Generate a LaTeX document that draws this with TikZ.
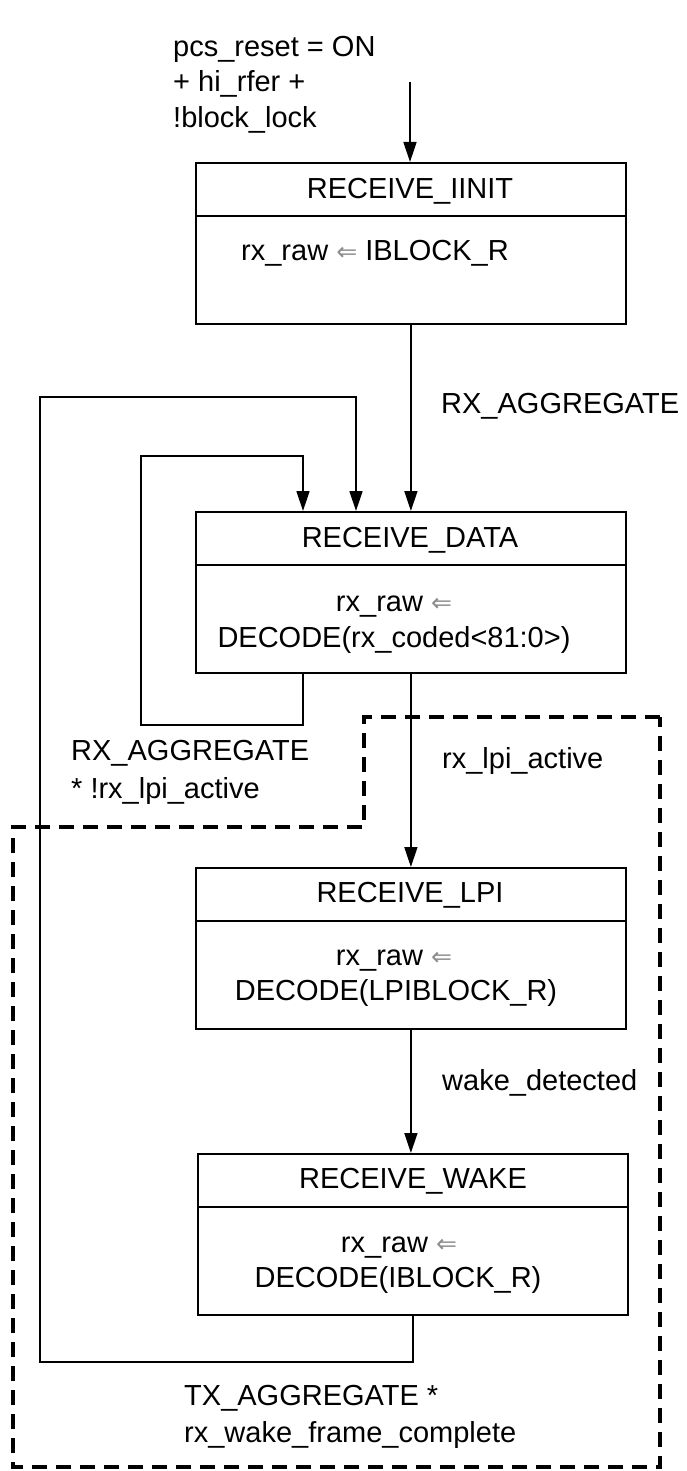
\documentclass[tikz,border=0pt]{standalone}
\usepackage{fontspec}
\setmainfont{Liberation Sans}
\newfontfamily\arrowfont{DejaVu Sans}
\usetikzlibrary{arrows.meta,calc}

% assignment arrow used inside the state boxes
\newcommand\assignarrow{{\arrowfont\fontsize{25}{30}\selectfont\textcolor{black!45}{⇐}}}

\begin{document}
\begin{tikzpicture}[x=1pt,y=-1pt,
  every node/.style={font=\fontsize{29}{35}\selectfont, inner sep=0pt},
  statebox/.style={draw, line width=1.8pt, minimum width=430pt,
                   minimum height=161pt, anchor=north west},
  divider/.style={line width=1.8pt},
  txt/.style={anchor=base},
  cond/.style={anchor=base west},
  link/.style={line width=1.5pt, -{Triangle[width=13pt,length=20pt]}},
  region/.style={line width=3.5pt, dash pattern=on 15pt off 9pt}
]
\useasboundingbox (0,0) rectangle (686,1471);

% low power idle region
\draw[region] (660,717) -- (364,717) -- (364,827) -- (13,827)
  -- (13,1467) -- (660,1467) -- cycle;

% states
\node[statebox] (init) at (195,162) {};
\node[statebox] (data) at (195,511) {};
\node[statebox] (lpi)  at (195,867) {};
\node[statebox] (wake) at (197,1153) {};

\foreach \s in {init,data,lpi,wake}
  \draw[divider] (\s.north west) ++(0,54) -- ++(430,0);

% state names and actions
\node[txt]  (initT) at (410,199)  {RECEIVE\_IINIT};
\node[cond] (initA) at (241,260)  {rx\_raw \assignarrow{} IBLOCK\_R};

\node[txt] (dataT)  at (410,547)  {RECEIVE\_DATA};
\node[txt] (dataA1) at (394,611)  {rx\_raw \assignarrow};
\node[txt] (dataA2) at (394,647)  {DECODE(rx\_coded<81:0>)};

\node[txt] (lpiT)  at (410,902)  {RECEIVE\_LPI};
\node[txt] (lpiA1) at (394,965)  {rx\_raw \assignarrow};
\node[txt] (lpiA2) at (396,1000) {DECODE(LPIBLOCK\_R)};

\node[txt] (wakeT)  at (413,1188) {RECEIVE\_WAKE};
\node[txt] (wakeA1) at (399,1252) {rx\_raw \assignarrow};
\node[txt] (wakeA2) at (398,1287) {DECODE(IBLOCK\_R)};

% transition conditions
\node[cond] (rst1) at (173,57)  {pcs\_reset = ON};
\node[cond] (rst2) at (173,92)  {+ hi\_rfer +};
\node[cond] (rst3) at (173,128) {!block\_lock};

\node[cond] (agg)   at (441,413) {RX\_AGGREGATE};
\node[cond] (self1) at (71,760)  {RX\_AGGREGATE};
\node[cond] (self2) at (71,798)  {* !rx\_lpi\_active};
\node[cond] (lpiC)  at (442,768) {rx\_lpi\_active};
\node[cond] (wakeC) at (442,1090) {wake\_detected};
\node[cond] (back1) at (184,1405) {TX\_AGGREGATE *};
\node[cond] (back2) at (184,1442) {rx\_wake\_frame\_complete};

% transitions
\coordinate (entry) at (410,82);
\draw[link] (entry) -- (entry |- init.north);
\draw[link] (init.south) -- (data.north);

\coordinate (selfA) at (303,725);
\coordinate (selfB) at (141,456);
\draw[link] (data.south -| selfA) -- (selfA) -| (selfB) -| (data.north -| selfA);

\draw[link] (data.south) -- (lpi.north);
\draw[link] (lpi.south) -- (lpi.south |- wake.north);

\coordinate (backA) at (40,1362);
\coordinate (backB) at (356,397);
\draw[link] (wake.south) |- (backA) |- (backB) -- (backB |- data.north);
\end{tikzpicture}
\end{document}
